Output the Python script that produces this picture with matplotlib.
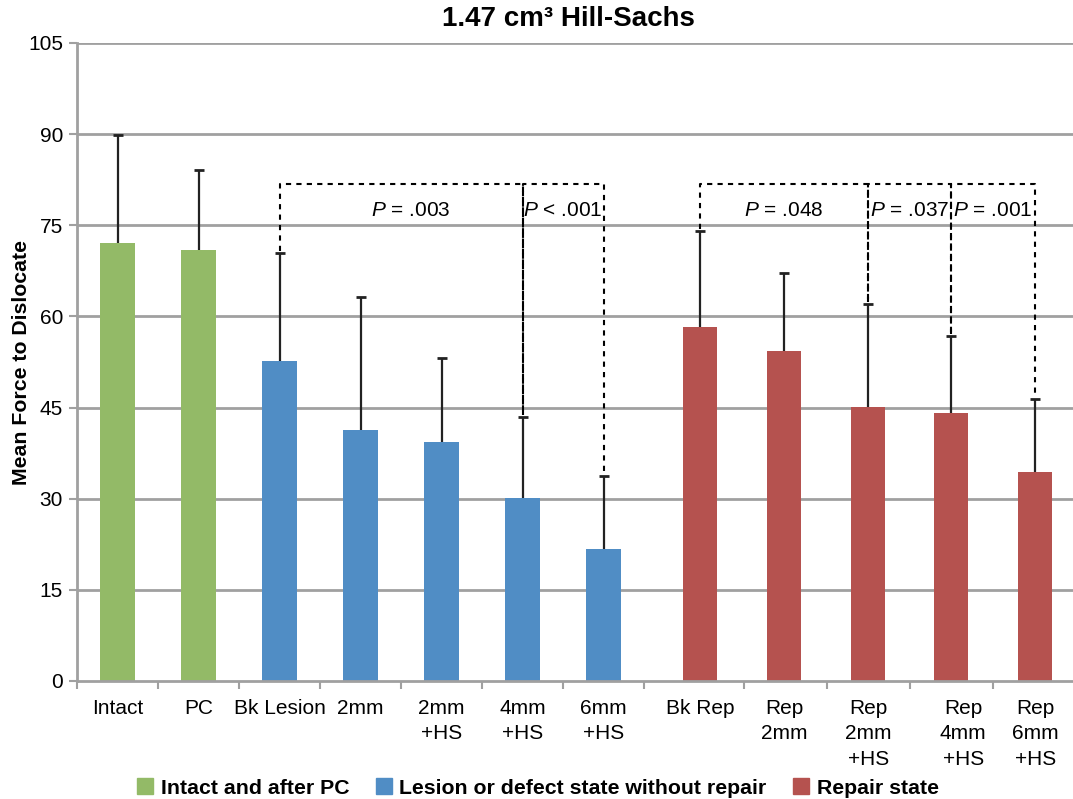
import matplotlib
matplotlib.use("Agg")
import matplotlib.pyplot as plt
from matplotlib.patches import Patch
import numpy as np

plt.rcParams['font.family'] = ['Liberation Sans', 'DejaVu Sans']
plt.rcParams['mathtext.fontset'] = 'custom'
plt.rcParams['mathtext.rm'] = 'Liberation Sans'
plt.rcParams['mathtext.it'] = 'Liberation Sans:italic'

# ---- data ----
categories = ["Intact", "PC", "Bk Lesion", "2mm", "2mm\n+HS", "4mm\n+HS", "6mm\n+HS",
              "Bk Rep", "Rep\n2mm", "Rep\n2mm\n+HS", "Rep\n4mm\n+HS", "Rep\n6mm\n+HS"]
means = [72.1, 70.9, 52.7, 41.3, 39.3, 30.1, 21.7, 58.3, 54.3, 45.1, 44.1, 34.4]
sd = [17.8, 13.2, 17.7, 21.9, 13.9, 13.3, 12.0, 15.8, 12.8, 16.9, 12.7, 12.0]
groups = [0, 0, 1, 1, 1, 1, 1, 2, 2, 2, 2, 2]
group_labels = ["Intact and after PC", "Lesion or defect state without repair", "Repair state"]
comparisons = [(2, 5, "= .003"), (5, 6, "< .001"),
               (7, 9, "= .048"), (9, 10, "= .037"), (10, 11, "= .001")]
bracket_level = 81.8
yticks = [0, 15, 30, 45, 60, 75, 90, 105]

# ---- layout ----
colors = ["#93BA67", "#508DC5", "#B5524F"]
x = np.array([0.5, 1.5, 2.5, 3.5, 4.5, 5.5, 6.5, 7.69, 8.73, 9.77, 10.79, 11.83])
label_x = x.copy()
label_x[10] = 10.94
tick_marks = [0, 1, 2, 3, 4, 5, 6, 7, 8.23, 9.26, 10.28, 11.31]

W, H = 1073, 799
fig = plt.figure(figsize=(W / 100, H / 100), dpi=100)
ax = fig.add_axes([77 / W, 1 - 681 / H, (1073 - 77) / W, (681 - 43) / H])

grid_c = "#a0a0a0"
for yv in yticks[1:]:
    ax.axhline(yv, color=grid_c, lw=2.0, zorder=0)

bar_colors = [colors[g] for g in groups]
ax.bar(x, means, width=0.42, color=bar_colors, zorder=2)
eb = ax.errorbar(x, means, yerr=[np.zeros(len(sd)), sd], fmt="none", ecolor="#222222",
                 elinewidth=1.6, capsize=3.6, capthick=2.0, zorder=3)
# only the upper cap is shown
eb[1][0].set_visible(False)

tops = np.array(means) + np.array(sd)
for i, j, txt in comparisons:
    ax.plot([x[i], x[i], x[j], x[j]], [tops[i] + 0.3, bracket_level, bracket_level, tops[j] + 0.3],
            color="black", lw=1.5, ls=(0, (2.5, 2.5)), zorder=4)
    ax.text((x[i] + x[j]) / 2 + (0.12 if (j - i) > 2 else 0), 77.4, "$P$ " + txt,
            ha="center", va="center", fontsize=15, zorder=5)

ax.set_xlim(0, (1073 - 77) / 81)
ax.set_ylim(0, 105)
ax.set_yticks(yticks)
ax.tick_params(axis="y", labelsize=15, length=6, width=1.5, color=grid_c, pad=4)
ax.set_xticks(label_x)
ax.set_xticklabels(categories, fontsize=15, linespacing=1.42, va="top")
ax.tick_params(axis="x", length=0, pad=13)
ax.set_xticks(tick_marks, minor=True)
ax.tick_params(axis="x", which="minor", length=6, width=1.5, color=grid_c)

for s in ["top", "right"]:
    ax.spines[s].set_visible(False)
for s in ["left", "bottom"]:
    ax.spines[s].set_color(grid_c)
    ax.spines[s].set_linewidth(2.0)

ax.set_ylabel("Mean Force to Dislocate", fontsize=15.3, fontweight="bold", va="center")
ax.yaxis.set_label_coords(-(77 - 22) / 996, 0.5)

fig.text(568 / W, 1 - 19 / H, "1.47 cm³ Hill-Sachs", ha="center", va="center",
         fontsize=20, fontweight="bold")

handles = [Patch(color=c) for c in colors]
fig.legend(handles, group_labels, loc="center", bbox_to_anchor=(538 / W, 1 - 788 / H),
           ncol=3, frameon=False, prop={"weight": "bold", "size": 15.3},
           handlelength=0.75, handleheight=0.75, handletextpad=0.35, columnspacing=1.25)

fig.savefig("out.png", dpi=100)
